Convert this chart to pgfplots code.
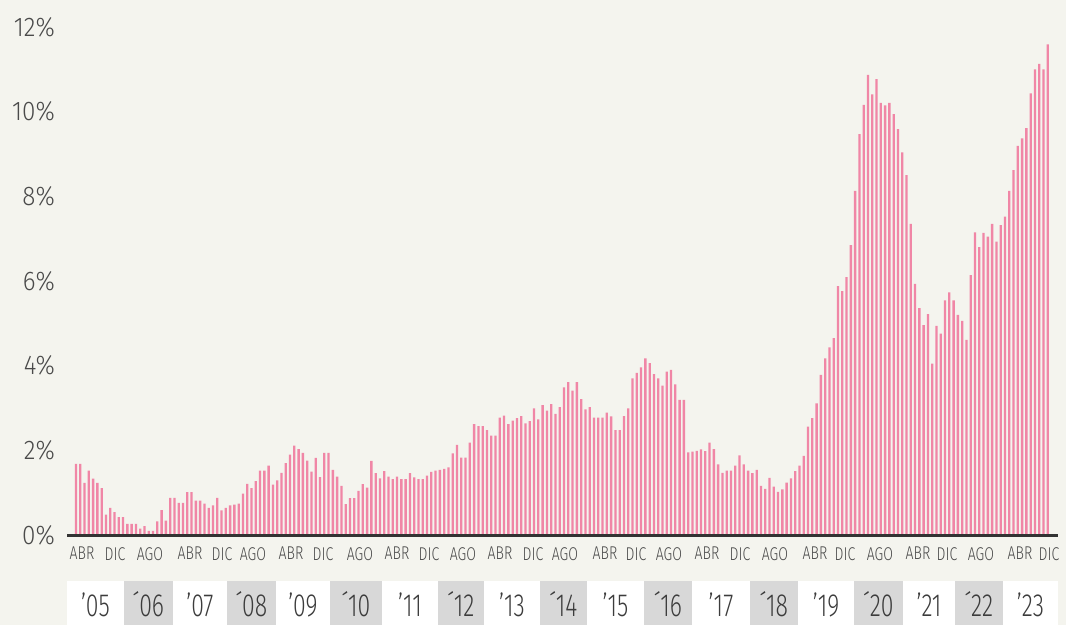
\documentclass[border=0pt]{standalone}
\usepackage{pgfplots}
\pgfplotsset{compat=1.18}
\usepackage{pgfplotstable}
\usepackage{fontspec}
\setmainfont{Fira Sans}
\newfontfamily\condA{Fira Sans Light}[FakeStretch=0.76]
\newfontfamily\condB{Fira Sans Light}[FakeStretch=0.9]
\newfontfamily\condC{Fira Sans Light}[FakeStretch=0.72]
\definecolor{bg}{HTML}{F4F4EE}
\definecolor{barpink}{RGB}{240,134,166}
\definecolor{basecol}{HTML}{333333}
\definecolor{boxgray}{HTML}{D8D8D8}
\definecolor{labgray}{HTML}{4A4A4A}
\definecolor{yeargray}{HTML}{3C3C3C}

\pgfplotstableread{
m v
0 1.68
1 1.68
2 1.23
3 1.52
4 1.33
5 1.23
6 1.11
7 0.48
8 0.64
9 0.54
10 0.42
11 0.42
12 0.26
13 0.26
14 0.26
15 0.15
16 0.21
17 0.10
18 0.10
19 0.32
20 0.59
21 0.34
22 0.88
23 0.88
24 0.76
25 0.76
26 1.01
27 1.01
28 0.81
29 0.81
30 0.74
31 0.64
32 0.70
33 0.88
34 0.58
35 0.64
36 0.70
37 0.72
38 0.74
39 0.98
40 1.21
41 1.11
42 1.27
43 1.52
44 1.52
45 1.64
46 1.19
47 1.29
48 1.47
49 1.70
50 1.90
51 2.11
52 2.03
53 1.94
54 1.76
55 1.50
56 1.82
57 1.37
58 1.94
59 1.94
60 1.54
61 1.38
62 1.16
63 0.73
64 0.87
65 0.87
66 1.04
67 1.20
68 1.12
69 1.75
70 1.46
71 1.34
72 1.51
73 1.38
74 1.32
75 1.38
76 1.32
77 1.32
78 1.46
79 1.36
80 1.32
81 1.32
82 1.40
83 1.49
84 1.52
85 1.54
86 1.56
87 1.60
88 1.93
89 2.13
90 1.83
91 1.83
92 2.18
93 2.62
94 2.57
95 2.57
96 2.48
97 2.35
98 2.35
99 2.77
100 2.82
101 2.62
102 2.70
103 2.76
104 2.81
105 2.64
106 2.69
107 2.99
108 2.73
109 3.07
110 2.94
111 3.09
112 2.86
113 3.02
114 3.49
115 3.61
116 3.41
117 3.61
118 3.21
119 2.97
120 3.02
121 2.77
122 2.77
123 2.77
124 2.89
125 2.80
126 2.48
127 2.48
128 2.81
129 2.99
130 3.70
131 3.83
132 3.96
133 4.17
134 4.06
135 3.80
136 3.70
137 3.53
138 3.86
139 3.90
140 3.56
141 3.19
142 3.19
143 1.95
144 1.97
145 1.99
146 2.02
147 1.98
148 2.18
149 2.03
150 1.67
151 1.47
152 1.52
153 1.52
154 1.64
155 1.88
156 1.67
157 1.52
158 1.46
159 1.54
160 1.16
161 1.09
162 1.35
163 1.14
164 1.02
165 1.08
166 1.24
167 1.34
168 1.51
169 1.64
170 1.87
171 2.56
172 2.76
173 3.11
174 3.78
175 4.17
176 4.43
177 4.65
178 5.88
179 5.76
180 6.09
181 6.85
182 8.13
183 9.47
184 10.16
185 10.87
186 10.41
187 10.77
188 10.21
189 10.15
190 10.21
191 9.94
192 9.59
193 9.04
194 8.50
195 7.35
196 5.93
197 5.36
198 4.96
199 5.22
200 4.05
201 4.94
202 4.76
203 5.54
204 5.73
205 5.54
206 5.20
207 5.06
208 4.61
209 6.14
210 7.15
211 6.80
212 7.14
213 7.05
214 7.35
215 6.93
216 7.32
217 7.52
218 8.13
219 8.62
220 9.19
221 9.37
222 9.61
223 10.43
224 11.00
225 11.13
226 11.00
227 11.59
}\datatable

\begin{document}
\begin{tikzpicture}
\useasboundingbox (0pt,0pt) rectangle (1066pt,625pt);
\fill[bg] (0pt,0pt) rectangle (1066pt,625pt);
% year strip
\fill[white] (67pt,0pt) rectangle (1058pt,44pt);
\foreach \a/\b in {124/173,227/276,330/382,438/484,540/587,644/692,750/798,854/903,955/1003}{
  \fill[boxgray] (\a pt,0pt) rectangle (\b pt,44pt);
}
\foreach \c/\t in {95.5/’05,200/’07,303/’09,410/’11,512/’13,615.5/’15,721/’17,826/’19,929/’21,1030.5/’23,
                   148.5/´06,251.5/´08,356/´10,461/´12,563.5/´14,668/´16,774/´18,878.5/´20,979/´22}{
  \node[font=\condC\fontsize{32}{32}\selectfont, text=yeargray, inner sep=0pt, anchor=base] at (\c pt,8.5pt) {\t};
}
\begin{axis}[
  at={(67pt,90pt)}, anchor=south west,
  x=4.281pt, y=42.33pt,
  xmin=-2.1, xmax=229.4, ymin=0, ymax=12.3,
  clip=false,
  axis line style={draw=none},
  major tick length=0pt,
  ytick={0,2,4,6,8,10,12},
  yticklabels={0\%,2\%,4\%,6\%,8\%,10\%,12\%},
  yticklabel style={font=\condB\fontsize{27}{27}\selectfont, text=labgray, anchor=east, inner sep=0pt, xshift=-12pt},
  xtick={1.40,9.11,17.29,26.63,34.10,41.35,50.22,57.70,66.34,74.99,82.46,90.40,99.04,106.75,114.22,123.57,130.81,138.52,147.40,155.10,163.28,172.62,179.63,187.81,196.68,203.46,211.40,220.51,227.28},
  xticklabels={ABR,DIC,AGO,ABR,DIC,AGO,ABR,DIC,AGO,ABR,DIC,AGO,ABR,DIC,AGO,ABR,DIC,AGO,ABR,DIC,AGO,ABR,DIC,AGO,ABR,DIC,AGO,ABR,DIC},
  xticklabel style={font=\condA\fontsize{18.5}{18.5}\selectfont, text=labgray, anchor=north, inner sep=0pt, yshift=-12pt},
]
\addplot[ybar, bar width=2.3pt, bar shift=0pt, fill=barpink, draw=none] table[x=m, y=v] {\datatable};
\draw[line width=3pt, basecol] (axis cs:-2.1,0) -- (axis cs:229.4,0);
\end{axis}
\end{tikzpicture}
\end{document}
